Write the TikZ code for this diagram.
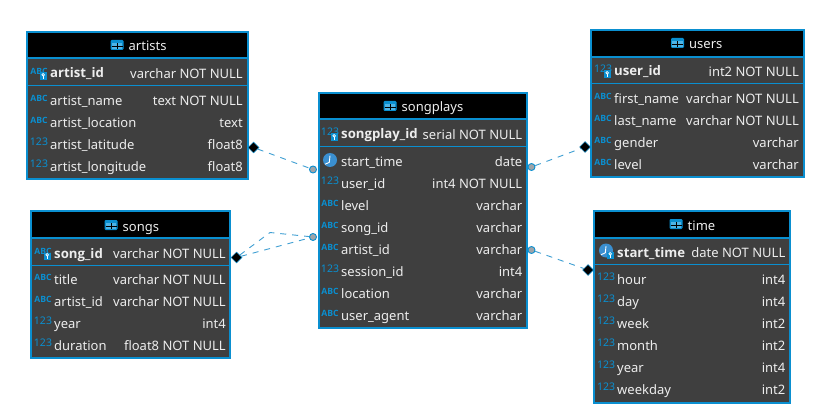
\documentclass[tikz,border=0pt]{standalone}
\usepackage{fontspec}
\setmainfont{Noto Sans}
\newfontfamily\pkfont{Open Sans}
\usetikzlibrary{shapes.geometric}
\definecolor{erblue}{HTML}{0A8FD0}
\definecolor{erlight}{HTML}{4FB4E6}
\definecolor{erclock}{HTML}{3A8FD0}
\definecolor{erbody}{HTML}{3F3F3F}
\definecolor{ertext}{HTML}{EDEDED}
\definecolor{erline}{HTML}{3F9FD3}
\definecolor{erdot}{HTML}{A0A4A8}
\tikzset{
  x=1pt,y=-1pt,
  body/.style={draw=erblue,line width=2pt,fill=erbody},
  head/.style={draw=erblue,line width=2pt,fill=black},
  sepline/.style={draw=erblue,line width=1pt},
  coltext/.style={inner sep=0pt,anchor=base west,text=ertext,font=\fontsize{13}{15}\selectfont},
  typetext/.style={inner sep=0pt,anchor=base east,text=ertext,font=\fontsize{13}{15}\selectfont},
  pktext/.style={inner sep=0pt,anchor=base west,text=ertext,font=\pkfont\fontsize{13.2}{16}\selectfont\bfseries},
  titletext/.style={inner sep=0pt,anchor=base west,text=ertext,font=\fontsize{13}{15}\selectfont},
  iconabc/.style={inner sep=0pt,text=erblue,font=\pkfont\fontsize{8.6}{10}\selectfont\bfseries},
  icon123/.style={inner sep=0pt,text=erblue,font=\fontsize{10.5}{11}\selectfont},
  link/.style={draw=erline,line width=0.9pt,dash pattern=on 6pt off 6pt},
  enddot/.style={circle,draw=erblue,fill=erdot,line width=0.9pt,minimum size=7pt,inner sep=0pt},
  enddiamond/.style={diamond,draw=erblue,fill=black,line width=0.5pt,minimum size=11pt,inner sep=0pt,aspect=1},
}
% frame: id, x1, x2, ytop, yhead, ysep, ybot
\newcommand{\erframe}[7]{%
  \path[body] (#2,#4) rectangle (#3,#7);
  \path[head] (#2,#4) rectangle (#3,#5);
  \draw[sepline] (#2,#6) -- (#3,#6);
  \coordinate (#1-frame) at (#2,#4);
}
% table glyph + title: id, x of glyph, y, title
\newcommand{\ertitle}[4]{%
  \fill[erblue,rounded corners=1.2pt] (#2,#3-6) rectangle (#2+13,#3+4);
  \fill[erlight] (#2+1.2,#3-2.8) rectangle (#2+11.8,#3+2.8);
  \draw[black,line width=0.9pt] (#2+1,#3+0.2) -- (#2+12,#3+0.2);
  \draw[black,line width=0.9pt] (#2+6.5,#3-2.8) -- (#2+6.5,#3+3);
  \node[titletext] (#1-title) at (#2+18,#3+5) {#4};
}
\newcommand{\icABC}[2]{\node[iconabc] at (#1+8,#2-2) {ABC};}
\newcommand{\icNUM}[2]{\node[icon123] at (#1+8,#2-2.5) {123};}
\newcommand{\icKEY}[2]{%
  \fill[erblue] (#1+8.5,#2-0.5) rectangle (#1+16,#2+7);
  \draw[white,line width=0.7pt] (#1+12.2,#2+1.8) circle (1.3);
  \draw[white,line width=0.7pt] (#1+12.2,#2+3) -- (#1+12.2,#2+6);
}
\newcommand{\icCLOCK}[2]{%
  \fill[erclock] (#1+8,#2-1.5) circle (7);
  \draw[white,line width=0.9pt] (#1+8,#2-5.8) -- (#1+7.3,#2+0.8) -- (#1+3,#2+2.8);
}
% row: id, icon cmd, icon x, xtext, xright, y, name, type
\newcommand{\errow}[8]{%
  #2{#3}{#6}
  \node[coltext] (#1-n) at (#4,#6+5.2) {#7};
  \node[typetext] (#1-t) at (#5,#6+5.2) {#8};
}
\newcommand{\erpk}[8]{%
  #2{#3}{#6}
  \icKEY{#3}{#6}
  \node[pktext] (#1-n) at (#4,#6+5) {#7};
  \node[typetext] (#1-t) at (#5,#6+5.2) {#8};
}
\begin{document}
\begin{tikzpicture}
\useasboundingbox (0,0) rectangle (818,414);
\fill[white] (0,0) rectangle (818,414);

% artists
\erframe{ar}{27}{248}{32}{58}{85.5}{179}
\ertitle{ar}{110.5}{46}{artists}
\erpk{ar0}{\icABC}{31}{50}{243}{73}{artist\_id}{varchar NOT NULL}
\errow{ar1}{\icABC}{31}{50}{243}{100.5}{artist\_name}{text NOT NULL}
\errow{ar2}{\icABC}{31}{50}{243}{122.5}{artist\_location}{text}
\errow{ar3}{\icNUM}{31}{50}{243}{144.5}{artist\_latitude}{float8}
\errow{ar4}{\icNUM}{31}{50}{243}{166.5}{artist\_longitude}{float8}

% songs
\erframe{so}{31}{230}{211}{238}{265}{358}
\ertitle{so}{104.5}{226}{songs}
\erpk{so0}{\icABC}{35}{54}{226}{253}{song\_id}{varchar NOT NULL}
\errow{so1}{\icABC}{35}{54}{226}{279.5}{title}{varchar NOT NULL}
\errow{so2}{\icABC}{35}{54}{226}{301.5}{artist\_id}{varchar NOT NULL}
\errow{so3}{\icNUM}{35}{54}{226}{323.5}{year}{int4}
\errow{so4}{\icNUM}{35}{54}{226}{345.5}{duration}{float8 NOT NULL}

% songplays
\erframe{sp}{318.5}{527}{93.5}{119}{146.5}{328}
\ertitle{sp}{383.5}{107}{songplays}
\erpk{sp0}{\icNUM}{322}{341}{522.5}{134}{songplay\_id}{serial NOT NULL}
\errow{sp1}{\icCLOCK}{322}{341}{522.5}{161.5}{start\_time}{date}
\errow{sp2}{\icNUM}{322}{341}{522.5}{183.5}{user\_id}{int4 NOT NULL}
\errow{sp3}{\icABC}{322}{341}{522.5}{205.5}{level}{varchar}
\errow{sp4}{\icABC}{322}{341}{522.5}{227.5}{song\_id}{varchar}
\errow{sp5}{\icABC}{322}{341}{522.5}{249.5}{artist\_id}{varchar}
\errow{sp6}{\icNUM}{322}{341}{522.5}{271.5}{session\_id}{int4}
\errow{sp7}{\icABC}{322}{341}{522.5}{293.5}{location}{varchar}
\errow{sp8}{\icABC}{322}{341}{522.5}{315.5}{user\_agent}{varchar}

% users
\erframe{us}{591}{804}{30}{57}{84}{177}
\ertitle{us}{671}{44}{users}
\erpk{us0}{\icNUM}{595}{614}{799}{71}{user\_id}{int2 NOT NULL}
\errow{us1}{\icABC}{595}{614}{799}{98.5}{first\_name}{varchar NOT NULL}
\errow{us2}{\icABC}{595}{614}{799}{120.5}{last\_name}{varchar NOT NULL}
\errow{us3}{\icABC}{595}{614}{799}{142.5}{gender}{varchar}
\errow{us4}{\icABC}{595}{614}{799}{164.5}{level}{varchar}

% time
\erframe{ti}{594}{790}{211}{237.5}{264.5}{403}
\ertitle{ti}{669.5}{225}{time}
\erpk{ti0}{\icCLOCK}{598}{617}{785.5}{252}{start\_time}{date NOT NULL}
\errow{ti1}{\icNUM}{598}{617}{785.5}{279}{hour}{int4}
\errow{ti2}{\icNUM}{598}{617}{785.5}{301}{day}{int4}
\errow{ti3}{\icNUM}{598}{617}{785.5}{323}{week}{int2}
\errow{ti4}{\icNUM}{598}{617}{785.5}{345}{month}{int2}
\errow{ti5}{\icNUM}{598}{617}{785.5}{367}{year}{int4}
\errow{ti6}{\icNUM}{598}{617}{785.5}{389}{weekday}{int2}

% connector ends
\node[enddiamond] (dar) at (253.5,147.5) {};
\node[enddot] (car) at (313,169.5) {};
\node[enddiamond] (dus) at (585,147) {};
\node[enddot] (cus) at (531.5,167) {};
\node[enddiamond] (dso) at (236.5,257.5) {};
\node[enddot] (cso) at (313,237) {};
\node[enddiamond] (dti) at (588,270) {};
\node[enddot] (cti) at (531.5,250) {};
\coordinate (bend) at (270,232.5);

\draw[link] (dar) -- (car);
\draw[link] (cus) -- (dus);
\draw[link] (dso) -- (cso);
\draw[link] (dso) -- (bend) -- (cso);
\draw[link] (cti) -- (dti);
\end{tikzpicture}
\end{document}
